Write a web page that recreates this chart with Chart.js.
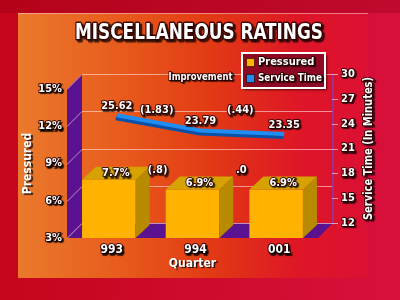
<!DOCTYPE html>
<html>
<head>
<meta charset="utf-8">
<script src="https://cdn.jsdelivr.net/npm/chart.js@4"></script>
<style>
    html, body { margin: 0; padding: 0; background: #c4061c; }
</style>
</head>
<body>
<canvas id="ratingsChart" width="400" height="300"></canvas>
<script>
const quarters = ['993', '994', '001'];
const pressured = [7.7, 6.9, 6.9];
const serviceTime = [25.62, 23.79, 23.35];
const pressuredTicks = [3, 6, 9, 12, 15];
const serviceTicks = [12, 15, 18, 21, 24, 27, 30];
const pressuredChange = ['(.8)', '.0'];
const serviceChange = ['(1.83)', '(.44)'];

const FONT = "'DejaVu Sans Condensed', 'DejaVu Sans', sans-serif";
const DX = 15, DY = 15;          // wall depth
const BX = 14, BY = 13;          // bar depth
const LINE_DX = 8, LINE_DY = -10; // line sits toward the back wall
const PURPLE = '#5a1290';

function label(ctx, text, x, y, size, opts = {}) {
    ctx.save();
    ctx.font = `bold ${size}px ${FONT}`;
    ctx.textAlign = opts.align || 'center';
    ctx.textBaseline = 'middle';
    ctx.translate(x, y);
    if (opts.rotate) ctx.rotate(opts.rotate);
    ctx.lineJoin = 'round';
    ctx.shadowColor = 'rgba(0,0,0,0.85)';
    ctx.shadowOffsetX = opts.shadow || 1.5;
    ctx.shadowOffsetY = opts.shadow || 1.5;
    ctx.shadowBlur = 1;
    ctx.lineWidth = opts.stroke || 2;
    ctx.strokeStyle = 'rgba(40,0,0,0.85)';
    if (opts.maxWidth) ctx.strokeText(text, 0, 0, opts.maxWidth);
    else ctx.strokeText(text, 0, 0);
    ctx.shadowColor = 'transparent';
    ctx.fillStyle = '#fff';
    if (opts.maxWidth) ctx.fillText(text, 0, 0, opts.maxWidth);
    else ctx.fillText(text, 0, 0);
    ctx.restore();
}

function poly(ctx, pts, fill) {
    ctx.beginPath();
    ctx.moveTo(pts[0][0], pts[0][1]);
    for (let i = 1; i < pts.length; i++) ctx.lineTo(pts[i][0], pts[i][1]);
    ctx.closePath();
    ctx.fillStyle = fill;
    ctx.fill();
}

const scenery = {
    id: 'scenery',
    beforeDraw(chart) {
        const { ctx, chartArea: { left, right, top, bottom } } = chart;
        const y = chart.scales.y, y2 = chart.scales.y2;
        ctx.save();
        // frame and panel
        let g = ctx.createLinearGradient(0, 0, 400, 0);
        g.addColorStop(0, '#c4061c');
        g.addColorStop(1, '#d8103c');
        ctx.fillStyle = g;
        ctx.fillRect(0, 0, 400, 300);
        ctx.fillStyle = 'rgba(150,0,20,0.35)';
        ctx.fillRect(0, 0, 400, 13);
        g = ctx.createLinearGradient(18, 0, 368, 0);
        g.addColorStop(0, '#ea7a2c');
        g.addColorStop(0.3, '#e85a1c');
        g.addColorStop(0.55, '#e23a14');
        g.addColorStop(0.8, '#de1626');
        g.addColorStop(1, '#dc1034');
        ctx.fillStyle = g;
        ctx.fillRect(18, 13, 350, 265);
        ctx.strokeStyle = 'rgba(255,190,190,0.6)';
        ctx.lineWidth = 1;
        ctx.beginPath();
        ctx.moveTo(18, 13.5);
        ctx.lineTo(368, 13.5);
        ctx.stroke();

        // left wall and floor
        poly(ctx, [[left, top], [left + DX, top - DY], [left + DX, bottom - DY], [left, bottom]], PURPLE);
        poly(ctx, [[left, bottom], [right, bottom], [right + DX, bottom - DY], [left + DX, bottom - DY]], PURPLE);

        // grid on back wall and left wall
        ctx.strokeStyle = 'rgba(255,225,225,0.6)';
        ctx.lineWidth = 1;
        pressuredTicks.forEach(v => {
            const py = Math.round(y.getPixelForValue(v)) + 0.5;
            ctx.beginPath();
            ctx.moveTo(left, py);
            ctx.lineTo(left + DX, py - DY);
            ctx.lineTo(right + DX, py - DY);
            ctx.stroke();
        });

        // right axis
        ctx.strokeStyle = '#8a3ab0';
        ctx.lineWidth = 1.5;
        ctx.beginPath();
        ctx.moveTo(right + DX, top - DY);
        ctx.lineTo(right + DX, bottom - DY);
        ctx.stroke();
        ctx.strokeStyle = 'rgba(230,190,230,0.8)';
        ctx.lineWidth = 1;
        serviceTicks.forEach(v => {
            const py = Math.round(y2.getPixelForValue(v)) - DY + 0.5;
            ctx.beginPath();
            ctx.moveTo(right + DX - 1, py);
            ctx.lineTo(right + DX + 5, py);
            ctx.stroke();
        });
        ctx.restore();

        // shadow for the axis text drawn by the scales
        ctx.shadowColor = 'rgba(0,0,0,0.85)';
        ctx.shadowOffsetX = 1.5;
        ctx.shadowOffsetY = 1.5;
        ctx.shadowBlur = 1;
    },
    beforeDatasetsDraw(chart) {
        const ctx = chart.ctx;
        ctx.shadowColor = 'transparent';
        ctx.shadowOffsetX = 0;
        ctx.shadowOffsetY = 0;
        ctx.shadowBlur = 0;
    },
    beforeDatasetDraw(chart, args) {
        if (args.meta.type !== 'line') return;
        const ctx = chart.ctx;
        ctx.save();
        ctx.translate(LINE_DX, LINE_DY);
        ctx.shadowColor = '#0c50a8';
        ctx.shadowOffsetX = -1;
        ctx.shadowOffsetY = 3;
        ctx.shadowBlur = 0;
    },
    afterDatasetDraw(chart, args) {
        const ctx = chart.ctx;
        if (args.meta.type === 'line') {
            ctx.restore();
            return;
        }
        const bottom = chart.chartArea.bottom;
        ctx.save();
        args.meta.data.forEach(bar => {
            const l = bar.x - bar.width / 2, r = bar.x + bar.width / 2;
            const base = Math.min(bar.base, bottom);
            poly(ctx, [[r, bar.y], [r + BX, bar.y - BY], [r + BX, base - BY], [r, base]], '#b88a00');
            poly(ctx, [[l, bar.y], [l + BX, bar.y - BY], [r + BX, bar.y - BY], [r, bar.y]], '#d6a200');
        });
        ctx.restore();
    },
    afterDatasetsDraw(chart) {
        const { ctx, chartArea: { left, right, top, bottom } } = chart;
        const y2 = chart.scales.y2;
        const lineMeta = chart.getDatasetMeta(0);
        const barMeta = chart.getDatasetMeta(1);

        // title
        label(ctx, 'MISCELLANEOUS RATINGS', 199, 33, 22, { maxWidth: 248, shadow: 2, stroke: 3 });

        // bar values and changes
        const barTop = Math.min(...barMeta.data.map(b => b.y));
        barMeta.data.forEach((b, i) => {
            label(ctx, pressured[i] + '%', b.x + BX / 2, b.y - BY / 2, 11);
        });
        pressuredChange.forEach((t, i) => {
            const x = (barMeta.data[i].x + barMeta.data[i + 1].x) / 2 + 7;
            label(ctx, t, x, barTop - BY / 2 - 3, 11);
        });

        // line values and changes
        const pts = lineMeta.data.map(p => [p.x + LINE_DX, p.y + LINE_DY]);
        pts.forEach((p, i) => label(ctx, serviceTime[i].toFixed(2), p[0], p[1] - 9, 11));
        const lineTop = Math.min(...pts.map(p => p[1])) - 9;
        serviceChange.forEach((t, i) => {
            const x = (pts[i][0] + pts[i + 1][0]) / 2 - 2;
            label(ctx, t, x, lineTop + 4, 11);
        });
        label(ctx, 'Improvement', (left + right) / 2 + 8, top - DY + 3, 11, { maxWidth: 64 });

        // right axis labels and title
        serviceTicks.forEach(v => {
            label(ctx, String(v), right + DX + 8, y2.getPixelForValue(v) - DY, 11, { align: 'left' });
        });
        label(ctx, 'Service Time (In Minutes)', 369, (top + bottom) / 2 - DY, 12, { rotate: -Math.PI / 2, maxWidth: 143 });

        // legend
        const lx = 242, ly = 53, lw = 83, lh = 35;
        ctx.save();
        ctx.shadowColor = 'rgba(0,0,0,0.6)';
        ctx.shadowOffsetX = 2;
        ctx.shadowOffsetY = 2;
        ctx.shadowBlur = 2;
        ctx.fillStyle = '#8e0a24';
        ctx.fillRect(lx, ly, lw, lh);
        ctx.shadowColor = 'transparent';
        ctx.strokeStyle = '#fff';
        ctx.lineWidth = 2;
        ctx.strokeRect(lx, ly, lw, lh);
        const items = [chart.data.datasets[1], chart.data.datasets[0]];
        items.forEach((ds, i) => {
            const cy = ly + 9 + i * 16;
            ctx.fillStyle = ds.backgroundColor;
            ctx.fillRect(lx + 4, cy - 4, 9, 9);
            ctx.strokeStyle = 'rgba(60,0,0,0.8)';
            ctx.lineWidth = 1;
            ctx.strokeRect(lx + 4.5, cy - 3.5, 8, 8);
            label(ctx, ds.label, lx + 16, cy, 11, { align: 'left', maxWidth: 64 });
        });
        ctx.restore();
    }
};

const textStroke = { textStrokeColor: 'rgba(40,0,0,0.85)', textStrokeWidth: 2 };

new Chart(document.getElementById('ratingsChart'), {
    type: 'bar',
    data: {
        labels: quarters,
        datasets: [
            {
                type: 'line',
                label: 'Service Time',
                data: serviceTime,
                yAxisID: 'y2',
                borderColor: '#1f8ef0',
                backgroundColor: '#1f8ef0',
                borderWidth: 4,
                borderCapStyle: 'butt',
                pointRadius: 0,
                tension: 0
            },
            {
                label: 'Pressured',
                data: pressured,
                yAxisID: 'y',
                backgroundColor: '#ffb300',
                borderWidth: 0,
                barPercentage: 0.64,
                categoryPercentage: 1
            }
        ]
    },
    options: {
        responsive: false,
        animation: false,
        devicePixelRatio: 1,
        layout: { padding: { left: 15, top: 89, right: 82, bottom: 26 } },
        plugins: {
            legend: { display: false },
            tooltip: { enabled: false }
        },
        scales: {
            x: {
                grid: { display: false, drawTicks: false },
                border: { display: false },
                ticks: { color: '#fff', font: { family: FONT, size: 12, weight: 'bold' }, padding: 5, labelOffset: 3, ...textStroke },
                title: { display: true, text: 'Quarter', color: '#fff', font: { family: FONT, size: 12, weight: 'bold' }, padding: { top: 0, bottom: 3 } },
                afterFit: s => { s.height = 36; }
            },
            y: {
                min: 3,
                max: 15,
                grid: { display: false, drawTicks: false },
                border: { display: false },
                afterBuildTicks: s => { s.ticks = pressuredTicks.map(v => ({ value: v })); },
                ticks: { color: '#fff', font: { family: FONT, size: 11, weight: 'bold' }, padding: 5, callback: v => v + '%', ...textStroke },
                title: { display: true, text: 'Pressured', color: '#fff', font: { family: FONT, size: 12, weight: 'bold' }, padding: { top: 6, bottom: 0 } },
                afterFit: s => { s.width = 52; }
            },
            y2: {
                position: 'right',
                display: false,
                min: 12,
                max: 30
            }
        }
    },
    plugins: [scenery]
});
</script>
</body>
</html>
